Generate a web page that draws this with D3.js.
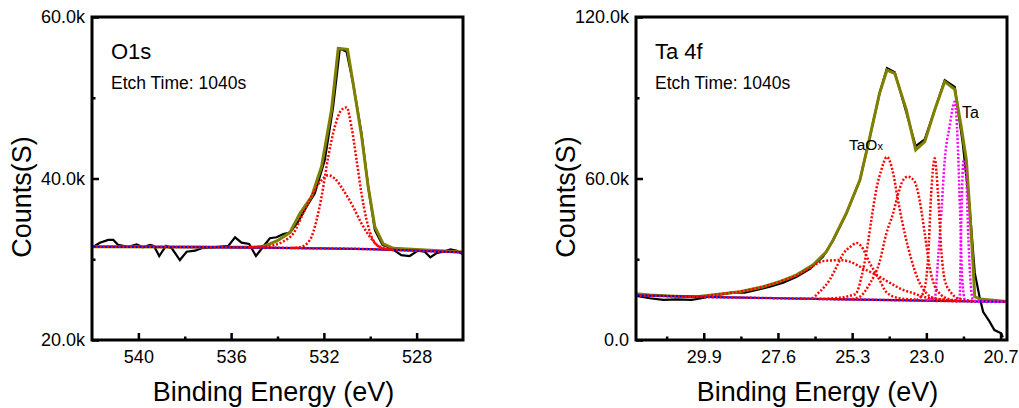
<!DOCTYPE html>
<html>
<head>
<meta charset="utf-8">
<script src="https://cdn.jsdelivr.net/npm/d3@7"></script>
<style>
  body { margin: 0; background: #fff; }
  svg text { font-family: "Liberation Sans", Arial, sans-serif; fill: #000; }
</style>
</head>
<body>
<div id="chart"></div>
<script>
// ---- O1s panel data: [binding energy (eV), counts (k)] ----
var o1sRaw = [[541.94,31.55],[541.66,32.05],[541.3,32.4],[541.08,32.4],[540.87,31.77],[540.44,31.55],[540.07,31.85],
  [539.81,31.48],[539.5,31.77],[539.33,31.65],[539.1,30.4],[538.81,31.65],[538.56,31.36],[538.21,29.9],[537.92,30.93],
  [537.56,31.06],[537.27,31.36],[536.77,31.48],[536.12,31.65],[535.83,32.72],[535.55,32.05],[535.22,31.89],[534.93,30.4],
  [534.62,31.55],[534.33,32.6],[534.04,32.72],[533.75,33.13],[533.47,33.29],[533.11,34.65],[532.75,36.5],[532.39,38.17],
  [531.96,42.3],[531.6,48.9],[531.31,56.1],[531.02,55.7],[530.74,51.8],[530.38,45.6],[530.09,39.0],[529.8,33.6],
  [529.47,31.77],[529.09,31.36],[528.66,30.5],[528.3,30.4],[527.94,31.06],[527.65,30.93],[527.41,30.24],[527.15,30.74],
  [526.86,30.93],[526.54,31.23],[526.26,31.06],[526.02,30.65]];
var o1sEnvelope = [[542,31.55],[535,31.5],[534.6,31.6],[534.0,32.3],[533.47,33.3],[533.03,35.7],[532.53,37.75],
  [532.1,41.5],[531.67,48.5],[531.38,56.1],[530.98,56.0],[530.74,51.8],[530.38,45.4],[530.09,39.0],[529.8,34.0],
  [529.44,31.9],[529.0,31.35],[526,30.9]];
var o1sBackground = [[542,31.55],[537,31.5],[533,31.38],[530,31.25],[529,31.15],[526,30.86]];
var o1sPeakA = [[533.4,31.4],[533.03,31.5],[532.6,32.4],[532.31,34.9],[532.1,37.75],[531.81,42.7],
  [531.53,46.4],[531.24,48.5],[531.02,48.8],[530.81,46.4],[530.59,42.3],[530.38,38.2],[530.16,34.9],[529.88,32.4],
  [529.51,31.4],[529.0,31.15]];
var o1sPeakB = [[535.2,31.5],[534.47,31.6],[533.75,32.2],[533.32,33.2],[532.89,35.7],[532.46,38.2],
  [532.1,39.8],[531.81,40.4],[531.53,40.0],[531.17,38.6],[530.74,36.5],[530.38,34.45],[530.02,32.8],[529.59,31.55],
  [529.0,31.2]];

// ---- Ta 4f panel data ----
var ta4fRaw = [[31.98,16.4],[31.57,15.5],[31.15,14.9],[30.74,15.1],[30.28,14.9],[29.97,15.5],[29.5,16.7],[28.99,17.7],
  [28.63,17.6],[28.26,18.6],[27.85,19.8],[27.44,21.3],[27.02,23.5],[26.61,26.4],[26.2,31.0],[25.89,37.0],[25.48,47.0],
  [25.06,59.4],[24.75,75.5],[24.45,91.7],[24.22,101.0],[23.98,99.5],[23.62,84.5],[23.33,72.0],[23.05,74.5],[22.74,85.5],
  [22.43,96.5],[22.12,94.0],[21.87,73.0],[21.66,49.5],[21.5,25.0],[21.35,16.0],[21.24,10.5],[21.04,6.8],[20.89,3.7],
  [20.68,2.5],[20.63,1.0]];
var ta4fEnvelope = [[32.0,17.2],[31.57,16.7],[30.8,16.3],[30.12,16.1],[29.5,16.9],[28.78,17.95],[28.06,19.8],
  [27.54,21.7],[27.02,24.2],[26.51,27.9],[26.1,32.8],[25.89,37.2],[25.48,47.1],[25.06,59.4],[24.75,75.5],[24.45,91.7],
  [24.22,100.3],[23.98,99.1],[23.62,85.5],[23.33,70.6],[23.05,73.7],[22.74,85.5],[22.43,96.0],[22.12,93.1],[21.92,79.3],
  [21.76,66.9],[21.66,49.5],[21.56,29.7],[21.5,16.1],[21.35,15.2],[20.5,14.3]];
var ta4fBackground = [[32.0,16.6],[30,16.0],[28,15.6],[26,15.2],[24,14.8],[22,14.4],[20.5,14.2]];
var taOxPeaks = [
  [[30.5,16.1],[30.12,16.1],[29.5,16.9],[28.78,17.95],[28.06,19.8],[27.54,21.7],[27.02,24.0],[26.61,26.8],
   [26.2,29.3],[25.89,29.6],[25.68,29.7],[25.37,29.1],[24.96,26.6],[24.45,23.5],[24.14,21.3],[23.72,18.6],[23.41,17.4],
   [23.1,16.1],[22.59,15.1],[22.0,14.6]],
  [[26.9,15.4],[26.61,15.3],[26.3,18.0],[25.99,22.5],[25.79,27.0],[25.58,32.0],[25.37,34.5],[25.15,36.0],
   [25.01,34.7],[24.75,28.5],[24.45,22.3],[24.24,17.8],[23.83,15.5],[23.3,15.0]],
  [[26.3,15.3],[25.99,15.4],[25.2,17.0],[25.0,24.0],[24.85,33.0],[24.7,45.0],[24.55,56.0],[24.4,63.0],
   [24.22,68.0],[24.03,62.0],[23.88,52.0],[23.67,39.6],[23.46,29.7],[23.25,22.3],[23.0,17.4],[22.74,15.5],[22.0,14.5]],
  [[25.3,15.2],[25.06,16.1],[24.75,21.0],[24.45,29.0],[24.24,39.6],[24.03,47.1],[23.88,54.0],[23.72,59.4],
   [23.57,60.7],[23.36,58.8],[23.21,52.0],[23.05,39.6],[22.9,27.2],[22.74,20.0],[22.64,18.0],[22.3,15.2],[22.0,14.6]],
  [[23.3,14.9],[23.1,17.4],[22.95,29.7],[22.85,54.5],[22.74,67.5],[22.64,54.5],[22.53,32.2],[22.43,22.3],
   [22.22,17.4],[21.96,15.2],[21.5,14.4]]
];
var taMetalPeaks = [
  [[23.0,14.9],[22.74,15.5],[22.64,29.7],[22.53,48.3],[22.43,66.9],[22.28,79.3],[22.12,88.5],[22.05,79.3],
   [21.99,60.7],[21.94,42.1],[21.89,23.5],[21.8,15.0],[21.5,14.4]],
  [[22.1,14.6],[21.97,15.5],[21.92,42.0],[21.85,66.9],[21.76,60.7],[21.71,42.0],[21.64,23.5],[21.56,15.2],
   [21.4,14.3],[20.5,14.2]]
];

// ---- axes ----
var o1sXDomain = [542, 526], o1sXTicks = [540, 536, 532, 528], o1sXMinor = [538, 534, 530];
var o1sYDomain = [20, 60], o1sYTicks = [20, 40, 60], o1sYMinor = [30, 50];
var ta4fXDomain = [32.0, 20.5], ta4fXTicks = [29.9, 27.6, 25.3, 23.0, 20.7], ta4fXMinor = [31.05, 28.75, 26.45, 24.15, 21.85];
var ta4fYDomain = [0, 120], ta4fYTicks = [0, 60, 120], ta4fYMinor = [30, 90];

var width = 1019, height = 408;
var svg = d3.select("#chart").append("svg").attr("width", width).attr("height", height);

function fmtY(v) { return v === 0 ? "0.0" : v.toFixed(1) + "k"; }

function drawPanel(p) {
  var x = d3.scaleLinear().domain(p.xDomain).range([p.left, p.right]);
  var y = d3.scaleLinear().domain(p.yDomain).range([340, 17]);
  var g = svg.append("g");

  var clipId = "clip" + p.id;
  svg.append("clipPath").attr("id", clipId).append("rect")
    .attr("x", p.left).attr("y", 17).attr("width", p.right - p.left).attr("height", 323);
  var plot = g.append("g").attr("clip-path", "url(#" + clipId + ")");

  var line = d3.line().x(function(d) { return x(d[0]); }).y(function(d) { return y(d[1]); });
  var smooth = d3.line().x(function(d) { return x(d[0]); }).y(function(d) { return y(d[1]); })
    .curve(d3.curveMonotoneX);

  function dotted(s, colour) {
    plot.append("path").attr("d", smooth(s)).attr("fill", "none")
      .attr("stroke", colour).attr("stroke-width", 2.5).attr("stroke-dasharray", "2,1.8");
  }

  plot.append("path").attr("d", line(p.raw)).attr("fill", "none")
    .attr("stroke", "#000").attr("stroke-width", 2.2);
  plot.append("path").attr("d", line(p.envelope)).attr("fill", "none")
    .attr("stroke", "#808000").attr("stroke-width", 3);
  plot.append("path").attr("d", smooth(p.background)).attr("fill", "none")
    .attr("stroke", "#0000ff").attr("stroke-width", 2.2);
  // fitted components sit on the background, drawn dotted over it
  dotted(p.background, "#ff0000");
  (p.magenta || []).forEach(function(s) { dotted(s, "#ff00ff"); });
  p.red.forEach(function(s) { dotted(s, "#ff0000"); });

  // axes with inward ticks
  g.append("g").attr("transform", "translate(0,340)")
    .call(d3.axisBottom(x).tickValues(p.xTicks).tickSize(-7).tickPadding(10)
      .tickFormat(function(d) { return p.xFmt(d); }));
  g.append("g").attr("transform", "translate(0,340)")
    .call(d3.axisBottom(x).tickValues(p.xMinor).tickSize(-3.5).tickFormat(""));
  g.append("g").attr("transform", "translate(" + p.left + ",0)")
    .call(d3.axisLeft(y).tickValues(p.yTicks).tickSize(-7).tickPadding(7).tickFormat(fmtY));
  g.append("g").attr("transform", "translate(" + p.left + ",0)")
    .call(d3.axisLeft(y).tickValues(p.yMinor).tickSize(-3.5).tickFormat(""));
  g.selectAll(".domain").remove();
  g.selectAll(".tick line").attr("stroke", "#000").attr("stroke-width", 2.5);
  g.selectAll(".tick text").style("font-size", "18px").attr("fill", "#000");

  g.append("rect").attr("x", p.left).attr("y", 17).attr("width", p.right - p.left).attr("height", 323)
    .attr("fill", "none").attr("stroke", "#000").attr("stroke-width", 3);

  g.append("text").attr("x", (p.left + p.right) / 2 - 4).attr("y", 401).attr("text-anchor", "middle")
    .style("font-size", "27px").text("Binding Energy (eV)");
  g.append("text").attr("transform", "translate(" + (p.left - 61) + ",197)rotate(-90)")
    .attr("text-anchor", "middle").style("font-size", "27px").text("Counts(S)");

  g.append("text").attr("x", p.left + 19).attr("y", 59).style("font-size", "22px").text(p.title);
  g.append("text").attr("x", p.left + 19).attr("y", 89).style("font-size", "17.5px").text("Etch Time: 1040s");
  return { g: g, x: x, y: y };
}

drawPanel({
  id: "o1s", left: 92, right: 463, xDomain: o1sXDomain, yDomain: o1sYDomain,
  xTicks: o1sXTicks, xMinor: o1sXMinor, yTicks: o1sYTicks, yMinor: o1sYMinor,
  xFmt: function(d) { return d3.format("d")(d); },
  raw: o1sRaw, envelope: o1sEnvelope, background: o1sBackground, red: [o1sPeakB, o1sPeakA],
  title: "O1s"
});

var ta = drawPanel({
  id: "ta4f", left: 636, right: 1007, xDomain: ta4fXDomain, yDomain: ta4fYDomain,
  xTicks: ta4fXTicks, xMinor: ta4fXMinor, yTicks: ta4fYTicks, yMinor: ta4fYMinor,
  xFmt: function(d) { return d.toFixed(1); },
  raw: ta4fRaw, envelope: ta4fEnvelope, background: ta4fBackground, magenta: taMetalPeaks, red: taOxPeaks,
  title: "Ta 4f"
});

var taOxLabel = ta.g.append("text").attr("x", 849).attr("y", 150).style("font-size", "15.5px");
taOxLabel.append("tspan").text("TaO");
taOxLabel.append("tspan").style("font-size", "11px").text("x");
ta.g.append("text").attr("x", 962).attr("y", 118).style("font-size", "16px").text("Ta");
</script>
</body>
</html>
